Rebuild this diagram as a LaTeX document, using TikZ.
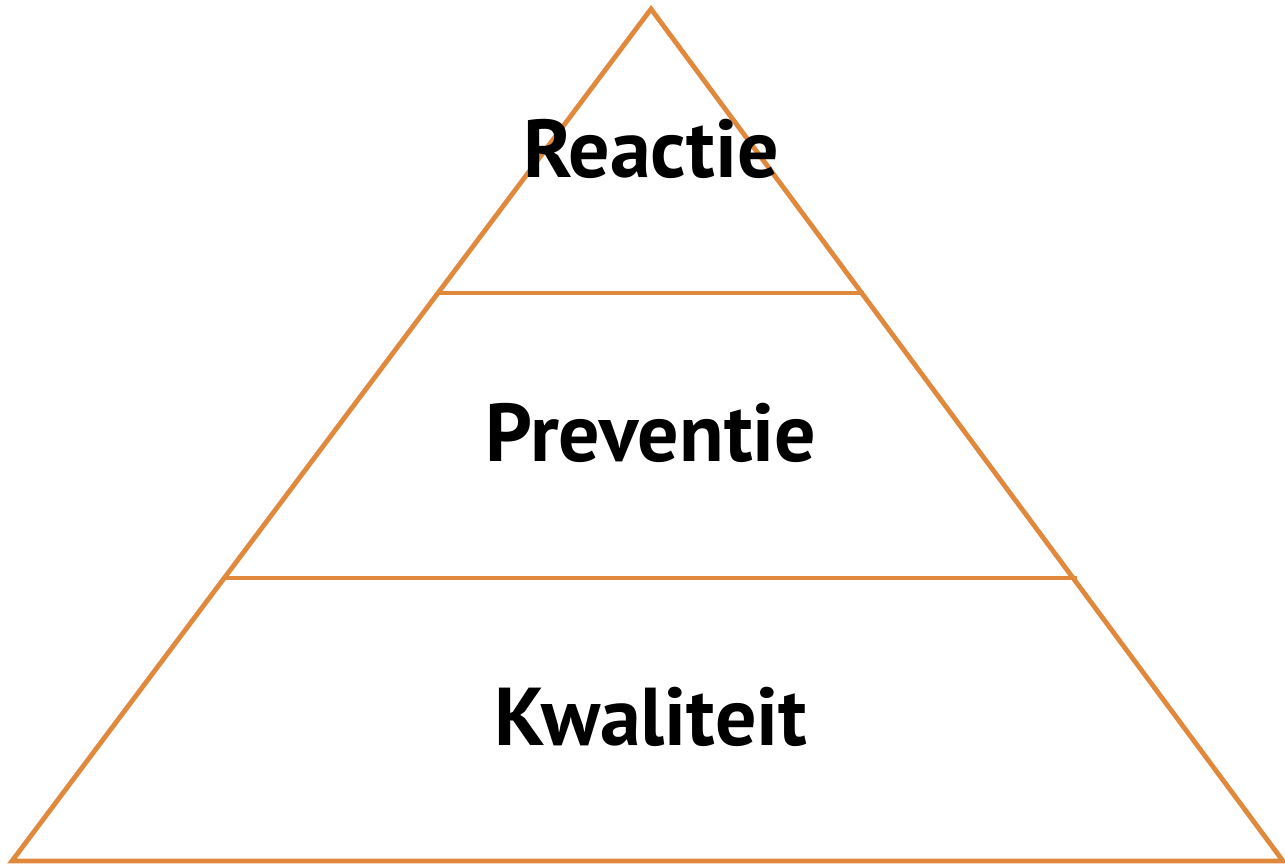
\documentclass[tikz,border=0pt]{standalone}
\usepackage{fontspec}
\setmainfont{PT Sans}
\definecolor{pyr}{HTML}{E0883C}
\begin{document}
\begin{tikzpicture}[x=1pt,y=-1pt,
  edge/.style={draw=pyr,line width=4.8pt,line join=miter,line cap=butt},
  lbl/.style={font=\fontsize{82}{82}\selectfont\bfseries,text=black,anchor=base,inner sep=0pt}]
\useasboundingbox (0,0) rectangle (1285,865);
\coordinate (apex) at (651,9);
\coordinate (bl) at (12,861);
\coordinate (br) at (1283,861);
\coordinate (l1) at (438.5,293);
\coordinate (r1) at (863.5,293);
\coordinate (l2) at (225,578);
\coordinate (r2) at (1077,578);
\draw[edge] (apex) -- (br) -- (bl) -- cycle;
\draw[edge] (l1) -- (r1);
\draw[edge] (l2) -- (r2);
\node[lbl] (t1) at (651,177) {Reactie};
\node[lbl] (t2) at (651,461) {Preventie};
\node[lbl] (t3) at (651,745) {Kwaliteit};
\end{tikzpicture}
\end{document}
